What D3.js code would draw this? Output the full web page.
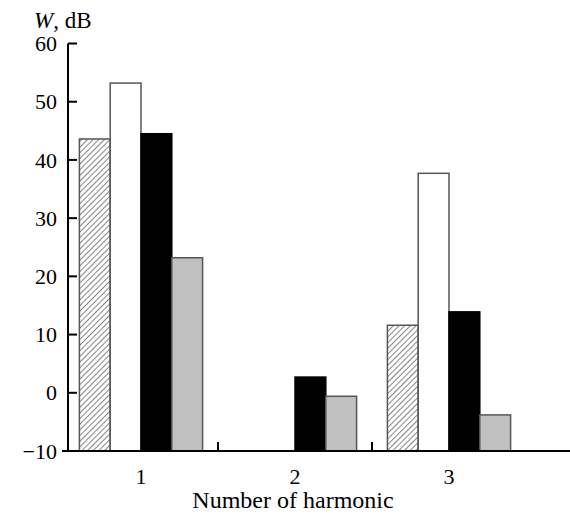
<!DOCTYPE html>
<html>
<head>
<meta charset="utf-8">
<script src="https://cdn.jsdelivr.net/npm/d3@7"></script>
<style>
body{margin:0;background:#fff;}
</style>
</head>
<body>
<div id="chart"></div>
<script>
// harmonic number on x, four series per group
var harmonics = ["1","2","3"];
var seriesNames = ["hatched","white","black","gray"];
var hatchedVals = [43.6, null, 11.6];
var whiteVals = [53.2, null, 37.7];
var blackVals = [44.5, 2.7, 13.9];
var grayVals = [23.2, -0.6, -3.8];
var yTicks = [-10, 0, 10, 20, 30, 40, 50, 60];

var width = 570, height = 514;
var serif = "'Liberation Serif', 'Times New Roman', serif";

var svg = d3.select("#chart").append("svg")
	.attr("width", width)
	.attr("height", height)
	.attr("font-family", serif);

var defs = svg.append("defs");
var pat = defs.append("pattern")
	.attr("id", "hatch")
	.attr("patternUnits", "userSpaceOnUse")
	.attr("width", 4).attr("height", 4)
	.attr("patternTransform", "rotate(45)");
pat.append("rect").attr("width", 4).attr("height", 4).attr("fill", "#fff");
pat.append("line")
	.attr("x1", 0).attr("y1", 0).attr("x2", 0).attr("y2", 4)
	.attr("stroke", "#333").attr("stroke-width", 1.2);

var fills = {hatched: "url(#hatch)", white: "#fff", black: "#000", gray: "#c0c0c0"};

var y = d3.scaleLinear().domain([-10, 60]).range([451, 43.5]);
var x0 = d3.scaleBand().domain(harmonics).range([64, 526]).paddingInner(0.2).paddingOuter(0.1);
var x1 = d3.scaleBand().domain(seriesNames).range([0, x0.bandwidth()]);

var table = [];
harmonics.forEach(function(h, i){
	table.push({h: h, s: "hatched", v: hatchedVals[i]});
	table.push({h: h, s: "white", v: whiteVals[i]});
	table.push({h: h, s: "black", v: blackVals[i]});
	table.push({h: h, s: "gray", v: grayVals[i]});
});

svg.selectAll(".bar")
	.data(table.filter(function(d){ return d.v != null; }))
	.enter().append("rect")
	.attr("class", "bar")
	.attr("x", function(d){ return x0(d.h) + x1(d.s); })
	.attr("y", function(d){ return y(d.v); })
	.attr("width", x1.bandwidth())
	.attr("height", function(d){ return y(-10) - y(d.v); })
	.attr("fill", function(d){ return fills[d.s]; })
	.attr("stroke", function(d){ return d.s == "black" ? "#000" : "#555"; })
	.attr("stroke-width", 1.5);

// y axis
var yAxis = svg.append("g").attr("transform", "translate(68,0)");
yAxis.append("line")
	.attr("x1", 0).attr("x2", 0)
	.attr("y1", y(60)).attr("y2", y(-10))
	.attr("stroke", "#000").attr("stroke-width", 2);
yAxis.selectAll(".tick").data(yTicks).enter().append("line")
	.attr("x1", 0).attr("x2", 9)
	.attr("y1", function(d){ return y(d); })
	.attr("y2", function(d){ return y(d); })
	.attr("stroke", "#000").attr("stroke-width", 2);
yAxis.selectAll(".lbl").data(yTicks).enter().append("text")
	.attr("x", -11)
	.attr("y", function(d){ return y(d); })
	.attr("dy", "0.35em")
	.attr("text-anchor", "end")
	.style("font-size", "22px")
	.text(function(d){ return d < 0 ? "\u2212" + Math.abs(d) : d; });

// x axis
svg.append("line")
	.attr("x1", 62).attr("x2", 570)
	.attr("y1", y(-10)).attr("y2", y(-10))
	.attr("stroke", "#000").attr("stroke-width", 2);
var seps = harmonics.slice(1).map(function(h){ return x0(h) - x0.step() * x0.paddingInner() / 2; });
svg.selectAll(".sep").data(seps).enter().append("line")
	.attr("x1", function(d){ return d; }).attr("x2", function(d){ return d; })
	.attr("y1", y(-10)).attr("y2", y(-10) - 9)
	.attr("stroke", "#000").attr("stroke-width", 2);
svg.selectAll(".xl").data(harmonics).enter().append("text")
	.attr("x", function(d){ return x0(d) + x0.bandwidth() / 2; })
	.attr("y", 484)
	.attr("text-anchor", "middle")
	.style("font-size", "22px")
	.text(function(d){ return d; });

svg.append("text")
	.attr("x", 293).attr("y", 508)
	.attr("text-anchor", "middle")
	.style("font-size", "24px")
	.text("Number of harmonic");

var yt = svg.append("text").attr("x", 34).attr("y", 28).style("font-size", "23px");
yt.append("tspan").style("font-style", "italic").text("W");
yt.append("tspan").text(", dB");
</script>
</body>
</html>
